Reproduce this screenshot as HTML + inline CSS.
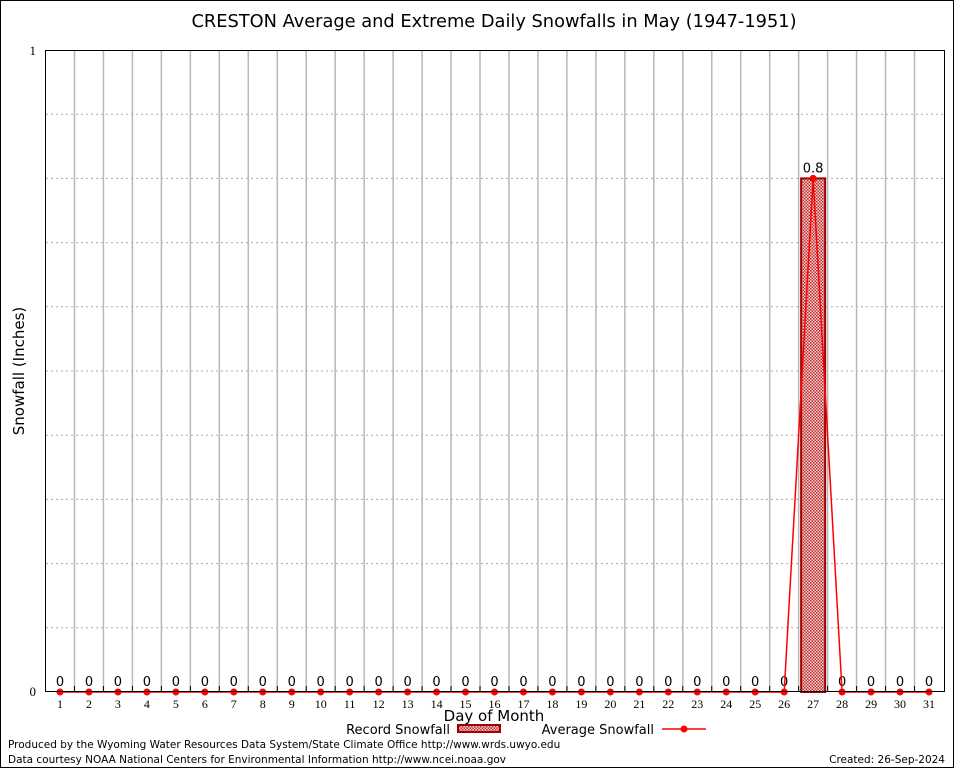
<!DOCTYPE html>
<html><head><meta charset="utf-8"><style>
body{margin:0;background:#fff}
svg{display:block;font-family:"DejaVu Sans","Liberation Sans",sans-serif}
</style></head><body>
<svg id="c" width="954" height="768" viewBox="0 0 954 768">
<defs><pattern id="hatch" width="3" height="3" patternUnits="userSpaceOnUse"><rect width="3" height="3" fill="#f4d0d0"/><rect width="1.5" height="1.5" fill="#c03030"/><rect x="1.5" y="1.5" width="1.5" height="1.5" fill="#c03030"/></pattern></defs>
<rect x="0.5" y="0.5" width="953" height="767" fill="#fff" stroke="#000"/>
<text x="494" y="27" font-size="17.8" text-anchor="middle">CRESTON Average and Extreme Daily Snowfalls in May (1947-1951)</text>
<g id="grid"></g><g id="marks"></g>
<rect x="45.5" y="50.5" width="899" height="641" fill="none" stroke="#000"/>
<text x="36" y="55" font-size="13" text-anchor="end" font-family="Liberation Serif,serif">1</text>
<text x="36" y="696" font-size="13" text-anchor="end" font-family="Liberation Serif,serif">0</text>
<text x="24" y="371" font-size="15" text-anchor="middle" transform="rotate(-90 24 371)">Snowfall (Inches)</text>
<text x="494" y="721" font-size="15" text-anchor="middle">Day of Month</text>
<g><text x="450" y="734" font-size="13" text-anchor="end">Record Snowfall</text><rect x="458" y="725" width="42" height="7" fill="url(#hatch)" stroke="#a00000" stroke-width="2"/></g>
<g><text x="654" y="734" font-size="13" text-anchor="end">Average Snowfall</text><line x1="662" y1="729" x2="706" y2="729" stroke="#f00" stroke-width="1.5"/><circle cx="684" cy="729" r="3.5" fill="#f00"/></g>
<text x="8" y="748" font-size="10.5">Produced by the Wyoming Water Resources Data System/State Climate Office http://www.wrds.uwyo.edu</text>
<text x="8" y="763" font-size="10.5">Data courtesy NOAA National Centers for Environmental Information http://www.ncei.noaa.gov</text>
<text x="945" y="763" font-size="10.5" text-anchor="end">Created:  26-Sep-2024</text>
</svg>
<script>
const days=[1,2,3,4,5,6,7,8,9,10,11,12,13,14,15,16,17,18,19,20,21,22,23,24,25,26,27,28,29,30,31];
const record=[0,0,0,0,0,0,0,0,0,0,0,0,0,0,0,0,0,0,0,0,0,0,0,0,0,0,0.8,0,0,0,0];
const average=[0,0,0,0,0,0,0,0,0,0,0,0,0,0,0,0,0,0,0,0,0,0,0,0,0,0,0.8,0,0,0,0];
const NS='http://www.w3.org/2000/svg';
const x=d=>60+(d-1)*(929-60)/30;
const y=v=>692-v*642;
const grid=document.getElementById('grid'),marks=document.getElementById('marks');
function mk(tag,attrs,parent){const e=document.createElementNS(NS,tag);for(const k in attrs)e.setAttribute(k,attrs[k]);parent.appendChild(e);return e;}
for(let k=1;k<10;k++){
 const l=mk('line',{x1:46,x2:944,y1:y(k/10),y2:y(k/10),stroke:'#aaa','stroke-dasharray':'2,3'},grid);
 
 
}
for(let i=0;i<days.length-1;i++){
 const xm=(x(days[i])+x(days[i+1]))/2;
 const l=mk('line',{x1:xm,x2:xm,y1:51,y2:691,stroke:'#b8b8b8','stroke-width':1.5},grid);
 
 
 mk('line',{x1:xm,x2:xm,y1:686,y2:692,stroke:'#000'},grid);
}
const bw=24;
days.forEach((d,i)=>{
 if(record[i]>0){
  const r=mk('rect',{x:x(d)-bw/2,y:y(record[i]),width:bw,height:692-y(record[i]),fill:'url(#hatch)',stroke:'#a00000','stroke-width':2},marks);
  
  
 }
 const t=mk('text',{x:x(d),y:y(record[i])-6,'font-size':13,'text-anchor':'middle'},marks);
 t.textContent=String(record[i]);
 
 
 const tl=mk('text',{x:x(d),y:708,'font-size':12,'text-anchor':'middle','font-family':'Liberation Serif,serif'},marks);
 tl.textContent=String(d);
 
 
});
const pl=mk('polyline',{points:days.map((d,i)=>x(d)+','+y(average[i])).join(' '),fill:'none',stroke:'#f00','stroke-width':1.5},marks);


days.forEach((d,i)=>{
 const c=mk('circle',{cx:x(d),cy:y(average[i]),r:3.5,fill:'#f00'},marks);
 
 
});
</script>
</body></html>
